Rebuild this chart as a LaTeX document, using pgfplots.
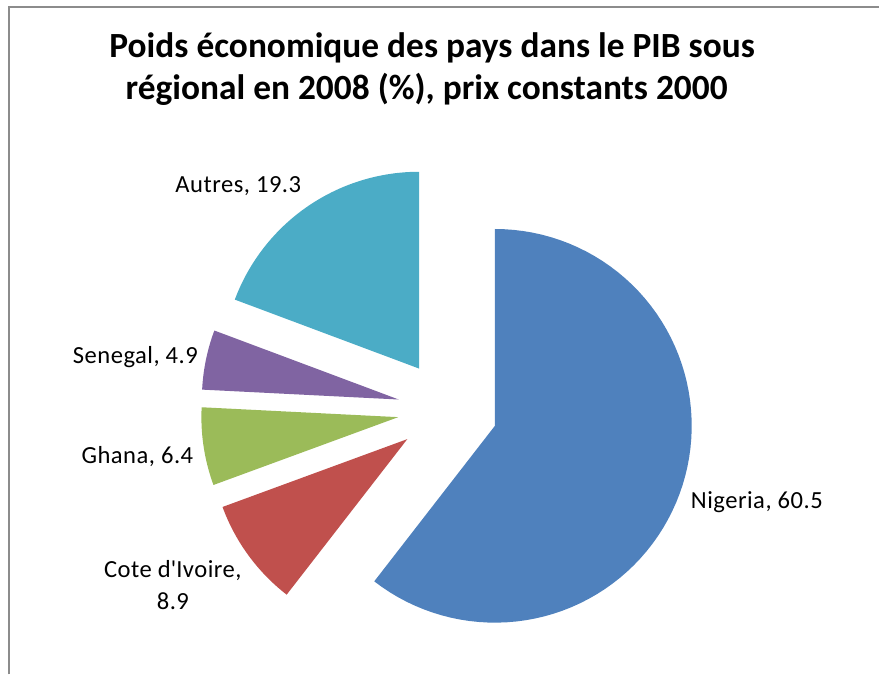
\documentclass[border=0pt]{standalone}
\usepackage{pgfplots}
\usepackage{pgfplotstable}
\pgfplotsset{compat=1.18}
\usepackage{fontspec}
\setmainfont{Carlito}
\newfontfamily\labelfont[LetterSpace=2]{Carlito}
\definecolor{cNig}{HTML}{4F81BD}
\definecolor{cCiv}{HTML}{C0504D}
\definecolor{cGha}{HTML}{9BBB59}
\definecolor{cSen}{HTML}{8064A2}
\definecolor{cAut}{HTML}{4BACC6}
\definecolor{cBorder}{HTML}{8C8C8C}

\pgfplotstableread{
country value color
Nigeria 60.5 cNig
Civ 8.9 cCiv
Ghana 6.4 cGha
Senegal 4.9 cSen
Autres 19.3 cAut
}\piedata

% #1 start cumulative %, #2 end cumulative %, #3 colour
\newcommand\slice[3]{%
  \addplot[fill=#3, draw=none, domain={90-3.6*#2}:{90-3.6*#1}, samples=80, variable=\t]
    ({448+50*cos(90-1.8*(#1+#2))+197*cos(\t)}, {265+50*sin(90-1.8*(#1+#2))+197*sin(\t)})
    -- (axis cs:{448+50*cos(90-1.8*(#1+#2))},{265+50*sin(90-1.8*(#1+#2))}) -- cycle;
}

\begin{document}
\begin{tikzpicture}
\begin{axis}[
  scale only axis, width=440pt, height=337.5pt,
  xmin=0, xmax=880, ymin=0, ymax=675,
  hide axis, clip=false,
]
\path (axis cs:0,0) rectangle (axis cs:880,675);
\draw[cBorder, line width=0.75pt] (axis cs:9,0) -- (axis cs:9,668) -- (axis cs:880,668);

\def\cum{0}
\pgfplotsforeachungrouped \i in {0,...,4}{%
  \pgfplotstablegetelem{\i}{value}\of\piedata \let\v\pgfplotsretval
  \pgfplotstablegetelem{\i}{color}\of\piedata \let\c\pgfplotsretval
  \pgfmathsetmacro\nxt{\cum+\v}%
  \edef\temp{\noexpand\slice{\cum}{\nxt}{\c}}\temp
  \global\let\cum\nxt
}

\node[anchor=base, font=\fontsize{17.7}{20}\selectfont\bfseries] at (axis cs:432.5,617) {Poids économique des pays dans le PIB sous};
\node[anchor=base, font=\fontsize{17.7}{20}\selectfont\bfseries] at (axis cs:427,575) {régional en 2008 (\%), prix constants 2000};

\tikzset{lbl/.style={anchor=base, font=\labelfont\fontsize{12.3}{14}\selectfont}}
\node[lbl] at (axis cs:238.5,482) {Autres, 19.3};
\node[lbl] at (axis cs:135.5,311) {Senegal, 4.9};
\node[lbl] at (axis cs:137.5,211) {Ghana, 6.4};
\node[lbl] at (axis cs:173,97) {Cote d\textquotesingle Ivoire,};
\node[lbl] at (axis cs:173,65) {8.9};
\node[lbl] at (axis cs:757.5,166) {Nigeria, 60.5};
\end{axis}
\end{tikzpicture}
\end{document}
